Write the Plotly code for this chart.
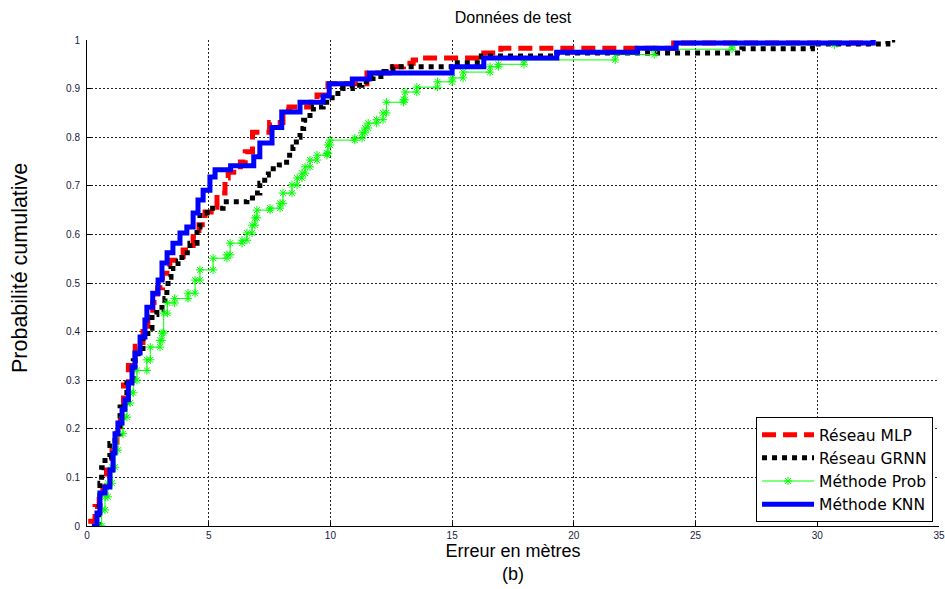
import plotly.graph_objects as go

# ---- data ----
mlp_x = [0.05, 0.33, 0.5, 0.65, 0.8, 1.03, 1.23, 1.37, 1.5, 1.7, 1.98, 2.3, 2.5, 2.7, 2.9, 3.1, 3.4, 3.95,
         4.36, 4.6, 4.85, 5.1, 5.34, 5.67, 5.8, 6.3, 6.5, 6.8, 7.5, 8.05, 8.3, 9.2, 9.45, 9.9, 11.5, 12.4,
         13.0, 13.4, 13.8, 16.3, 17.0, 24.1, 32.3]
mlp_y = [0.01, 0.04, 0.06, 0.08, 0.115, 0.156, 0.204, 0.24, 0.29, 0.33, 0.37, 0.4, 0.43, 0.46, 0.49, 0.52,
         0.547, 0.568, 0.595, 0.62, 0.646, 0.656, 0.685, 0.716, 0.728, 0.749, 0.77, 0.81, 0.83, 0.856, 0.862,
         0.872, 0.887, 0.91, 0.932, 0.945, 0.952, 0.959, 0.963, 0.973, 0.983, 0.994, 0.994]

grnn_x = [0.45, 0.5, 0.53, 0.6, 0.74, 0.94, 1.15, 1.36, 1.64, 1.9, 2.1, 2.3, 2.5, 2.67, 2.87, 3.08, 3.2, 3.28,
          3.33, 3.45, 3.74, 3.9, 4.23, 4.52, 4.64, 4.93, 5.59, 6.57, 6.8, 7.1, 7.3, 7.45, 7.9, 8.2, 8.46, 8.6,
          8.75, 8.9, 9.16, 9.3, 9.7, 10.07, 10.5, 10.9, 11.3, 11.75, 12.2, 12.57, 15.0, 16.2, 19.3, 26.9,
          29.8, 32.9, 33.2]
grnn_y = [0.0, 0.04, 0.088, 0.12, 0.142, 0.17, 0.19, 0.245, 0.294, 0.34, 0.36, 0.396, 0.407, 0.435, 0.445,
          0.458, 0.468, 0.492, 0.512, 0.53, 0.545, 0.562, 0.582, 0.615, 0.644, 0.654, 0.667, 0.675, 0.685,
          0.705, 0.722, 0.735, 0.743, 0.763, 0.78, 0.8, 0.818, 0.835, 0.852, 0.862, 0.872, 0.89, 0.9, 0.907,
          0.914, 0.925, 0.935, 0.945, 0.953, 0.967, 0.973, 0.982, 0.992, 1.0, 1.0]

prob_x = [0.53, 0.6, 0.74, 0.86, 1.03, 1.15, 1.27, 1.48, 1.64, 1.77, 1.9, 2.05, 2.46, 2.6, 3.0, 3.08, 3.15,
          3.3, 3.6, 4.15, 4.44, 4.64, 5.18, 5.75, 5.88, 6.37, 6.57, 6.78, 6.9, 6.98, 7.52, 7.93, 8.05, 8.42,
          8.63, 8.83, 8.96, 9.16, 9.45, 9.86, 9.9, 9.98, 11.0, 11.3, 11.42, 11.55, 11.9, 12.16, 12.3, 13.0,
          13.06, 13.55, 14.4, 15.0, 15.45, 16.56, 16.9, 17.95, 21.7, 23.3, 26.5, 30.7]
prob_y = [0.0, 0.033, 0.06, 0.088, 0.121, 0.156, 0.19, 0.224, 0.253, 0.274, 0.3, 0.32, 0.342, 0.368, 0.382,
          0.397, 0.438, 0.459, 0.468, 0.479, 0.506, 0.527, 0.551, 0.558, 0.582, 0.588, 0.603, 0.619, 0.634,
          0.65, 0.654, 0.664, 0.685, 0.702, 0.716, 0.726, 0.739, 0.753, 0.763, 0.767, 0.784, 0.794, 0.798,
          0.809, 0.819, 0.829, 0.836, 0.85, 0.872, 0.877, 0.893, 0.903, 0.914, 0.922, 0.934, 0.945, 0.95,
          0.959, 0.97, 0.981, 0.99, 1.0]

knn_x = [0.2, 0.41, 0.53, 0.74, 0.94, 1.07, 1.15, 1.27, 1.44, 1.56, 1.7, 1.85, 1.97, 2.18, 2.38, 2.46, 2.7,
         2.92, 3.08, 3.29, 3.53, 3.82, 4.1, 4.36, 4.56, 4.77, 5.05, 5.26, 5.9, 6.85, 7.1, 7.6, 8.0, 8.75, 9.7,
         9.95, 10.9, 11.6, 15.0, 16.3, 19.3, 22.6, 24.2, 32.3]
knn_y = [0.0, 0.027, 0.068, 0.08, 0.115, 0.15, 0.19, 0.212, 0.24, 0.26, 0.294, 0.327, 0.356, 0.389, 0.424,
         0.45, 0.479, 0.506, 0.541, 0.562, 0.582, 0.603, 0.615, 0.644, 0.671, 0.691, 0.718, 0.733, 0.741,
         0.76, 0.788, 0.82, 0.852, 0.872, 0.885, 0.91, 0.92, 0.932, 0.945, 0.963, 0.975, 0.983, 0.994, 1.0]

names = ["Réseau MLP", "Réseau GRNN", "Méthode Prob", "Méthode KNN"]
x_ticks = [0, 5, 10, 15, 20, 25, 30, 35]
y_ticks = [0, 0.1, 0.2, 0.3, 0.4, 0.5, 0.6, 0.7, 0.8, 0.9, 1]
y_ticktext = ["0", "0.1", "0.2", "0.3", "0.4", "0.5", "0.6", "0.7", "0.8", "0.9", "1"]


def stairs(xs, ys):
    sx, sy = [xs[0]], [ys[0]]
    for i in range(1, len(xs)):
        sx += [xs[i], xs[i]]
        sy += [ys[i - 1], ys[i]]
    return sx, sy


fig = go.Figure()
fig.add_trace(go.Scatter(x=mlp_x, y=mlp_y, mode="lines", name=names[0], line_shape="hv",
                         line=dict(color="#FF0000", width=5, dash="14px,7px")))
fig.add_trace(go.Scatter(x=grnn_x, y=grnn_y, mode="lines", name=names[1], line_shape="hv",
                         line=dict(color="#000000", width=5, dash="5px,5px")))
px_, py_ = stairs(prob_x, prob_y)
fig.add_trace(go.Scatter(x=px_, y=py_, mode="lines+markers", name=names[2],
                         line=dict(color="#00FF00", width=1),
                         marker=dict(symbol="asterisk-open", size=7, color="#00FF00",
                                     line=dict(color="#00FF00", width=1))))
fig.add_trace(go.Scatter(x=knn_x, y=knn_y, mode="lines", name=names[3], line_shape="hv",
                         line=dict(color="#0000FF", width=5)))

font_fam = "Liberation Sans, Arial, sans-serif"
fig.update_layout(
    width=945, height=589,
    margin=dict(l=87, r=6, t=40, b=63),
    paper_bgcolor="white", plot_bgcolor="white",
    font=dict(family=font_fam, color="#000000"),
    title=dict(text="Données de test", x=(87 + 939) / 2 / 945, xanchor="center",
               y=1 - 17 / 589, yanchor="middle", yref="container",
               font=dict(size=16, family=font_fam, color="#000000")),
    showlegend=True,
    legend=dict(x=0.993, y=0.008, xanchor="right", yanchor="bottom",
                bgcolor="white", bordercolor="#000000", borderwidth=1,
                font=dict(size=15.5, family="DejaVu Sans, Liberation Sans, sans-serif", color="#000000"),
                itemwidth=52, tracegroupgap=0),
    annotations=[dict(text="Probabilité cumulative", textangle=-90, showarrow=False,
                      xref="paper", yref="paper", x=(20 - 87) / 852, y=(526 - 268) / 486,
                      xanchor="center", yanchor="middle",
                      font=dict(size=21.5, family=font_fam, color="#000000"))],
)
fig.update_xaxes(range=[0, 35], tickvals=x_ticks, ticktext=[str(v) for v in x_ticks],
                 showgrid=True, gridcolor="#222222", griddash="2px,2px", gridwidth=1,
                 zeroline=False, showline=True, linecolor="#000000", linewidth=1,
                 ticks="inside", ticklen=4, tickcolor="#000000",
                 tickfont=dict(size=10, color="#1a1a3a"),
                 title=dict(text="Erreur en mètres<br>(b)", standoff=3,
                            font=dict(size=18, color="#000000")),
                 automargin=False)
fig.update_yaxes(range=[0, 1], tickvals=y_ticks, ticktext=y_ticktext,
                 showgrid=True, gridcolor="#222222", griddash="2px,2px", gridwidth=1,
                 zeroline=False, showline=True, linecolor="#000000", linewidth=1,
                 ticks="inside", ticklen=4, tickcolor="#000000", ticklabelstandoff=4,
                 tickfont=dict(size=10, color="#1a1a3a"),
                 automargin=False)

fig.write_html("out.html")
